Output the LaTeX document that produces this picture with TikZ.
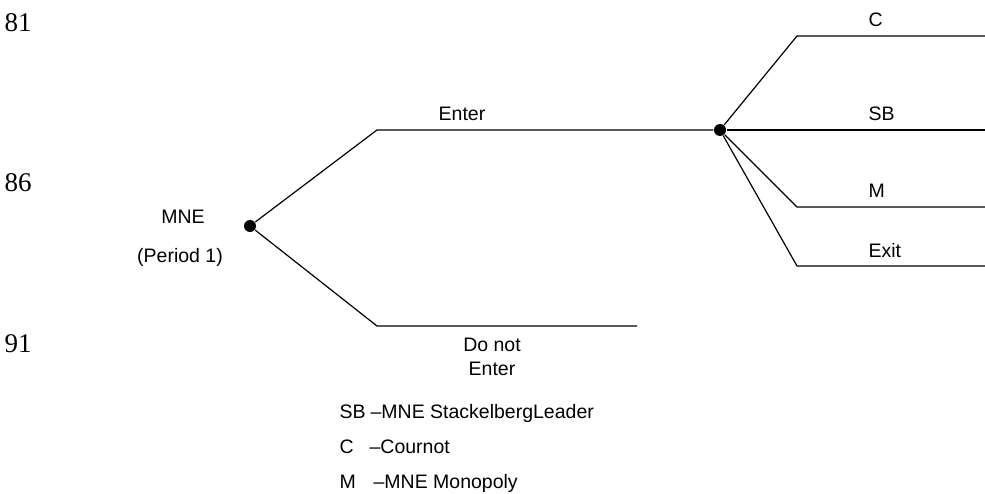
\documentclass[tikz,border=0pt]{standalone}
\usepackage{fontspec}
\setmainfont{Liberation Sans}
\newfontfamily\linenofont{Liberation Serif}
\usepackage{tikz}

\begin{document}
\begin{tikzpicture}[x=1pt,y=-1pt,line width=1.2pt,
    dot/.style={circle,fill=black,inner sep=0pt,minimum size=12pt},
    lbl/.style={font=\fontsize{19.5}{21}\selectfont,inner sep=0pt,anchor=base west},
    clbl/.style={font=\fontsize{19.5}{21}\selectfont,inner sep=0pt,anchor=base},
    lineno/.style={font=\linenofont\fontsize{27}{28}\selectfont,anchor=base west,inner sep=0pt}]
          \clip (0,0) rectangle (985,494);
          \useasboundingbox (0,0) rectangle (985,494);
          % margin numbers
          \node[lineno] (n81) at (4,32) {81};
          \node[lineno] (n86) at (4,192) {86};
          \node[lineno] (n91) at (4,352) {91};
          \node[lineno] (n96) at (4,512) {96};
          % first move
          \node[dot] (mne) at (250,226) {};
          \node[clbl] (mnetxt) at (183,224) {MNE};
          \node[clbl] (period) at (180,263) {(Period 1)};
          \coordinate (enterbend) at (377,130);
          \coordinate (dnebend) at (377,326);
          \coordinate (dneend) at (637,326);
          \node[dot] (entrant) at (720,130) {};
          \draw (mne) -- (enterbend) -- (entrant);
          \draw (mne) -- (dnebend) -- (dneend);
          \node[clbl] (enter) at (462,121) {Enter};
          \node[clbl] (dne1) at (492,351) {Do not};
          \node[clbl] (dne2) at (492,375) {Enter};
          % second move
          \coordinate (cbend) at (797,36);
          \coordinate (cend) at (985,36);
          \coordinate (sbend) at (985,130);
          \coordinate (mbend) at (797,207);
          \coordinate (mend) at (985,207);
          \coordinate (exitbend) at (797,266);
          \coordinate (exitend) at (985,266);
          \draw (entrant) -- (cbend) -- (cend);
          \draw (entrant) -- (sbend);
          \draw (entrant) -- (mbend) -- (mend);
          \draw (entrant) -- (exitbend) -- (exitend);
          \node[lbl] (c) at (868,27) {C};
          \node[lbl] (sb) at (868,121) {SB};
          \node[lbl] (m) at (868,198) {M};
          \node[lbl] (exit) at (868,258) {Exit};
          % key
          \node[lbl] (keysb) at (339,418) {SB};
          \node[lbl] (keysbtxt) at (370,418) {--MNE StackelbergLeader};
          \node[lbl] (keyc) at (339,453) {C};
          \node[lbl] (keyctxt) at (369,453) {--Cournot};
          \node[lbl] (keym) at (339,488) {M};
          \node[lbl] (keymtxt) at (373,488) {--MNE Monopoly};
        \end{tikzpicture}
\end{document}
